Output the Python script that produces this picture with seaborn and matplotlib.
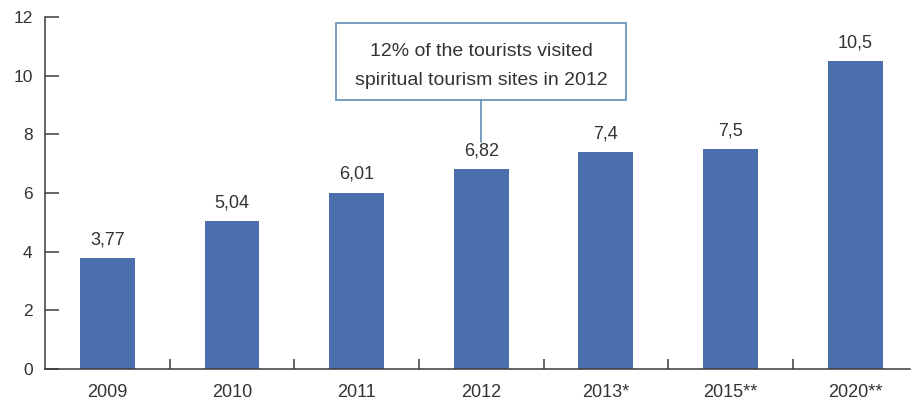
import matplotlib
matplotlib.use("Agg")
import matplotlib.pyplot as plt
from matplotlib.patches import Rectangle
import seaborn as sns
import pandas as pd

# Tourist numbers by year (millions); starred years are estimates/forecasts
years = ["2009", "2010", "2011", "2012", "2013*", "2015**", "2020**"]
tourists = [3.77, 5.04, 6.01, 6.82, 7.4, 7.5, 10.5]
value_labels = ["3,77", "5,04", "6,01", "6,82", "7,4", "7,5", "10,5"]
y_ticks = [0, 2, 4, 6, 8, 10, 12]
callout_text = "12% of the tourists visited\nspiritual tourism sites in 2012"
callout_year = "2012"

sns.set_theme(style="white")
plt.rcParams["font.family"] = ["Liberation Sans", "DejaVu Sans"]

BAR = "#4A6FAC"
TEXT = "#333333"
AXIS = "#3a3a3a"
BOX = "#5F8DB4"

df = pd.DataFrame({"year": years, "tourists": tourists})

fig = plt.figure(figsize=(9.13, 4.04), dpi=100)
ax = fig.add_axes([45 / 913, 35 / 404, 865 / 913, 352 / 404])

sns.barplot(data=df, x="year", y="tourists", color=BAR, saturation=1,
            width=0.44, ax=ax, edgecolor="none")

ax.set_xlim(-0.5, 6.44)
ax.set_ylim(0, 12)
ax.set_yticks(y_ticks)
ax.set_yticklabels([str(t) for t in y_ticks])
ax.set_xlabel("")
ax.set_ylabel("")

for s in ["top", "right"]:
    ax.spines[s].set_visible(False)
for s in ["left", "bottom"]:
    ax.spines[s].set_color(AXIS)
    ax.spines[s].set_linewidth(1.1)

ax.tick_params(axis="y", direction="in", length=10, width=1.1, color=AXIS,
               labelsize=12.5, labelcolor=TEXT, pad=9, left=True)
ax.tick_params(axis="x", which="major", length=0, labelsize=13,
               labelcolor=TEXT, pad=11)
ax.set_xticks([i + 0.5 for i in range(len(years) - 1)], minor=True)
ax.tick_params(axis="x", which="minor", direction="in", length=7,
               width=1.1, color=AXIS, bottom=True)

# Value labels above each bar
for i, (v, lab) in enumerate(zip(tourists, value_labels)):
    ax.annotate(lab, xy=(i, v), xytext=(0, 7), textcoords="offset points",
                ha="center", va="bottom", fontsize=13, color=TEXT)

# Callout box for 2012
cx = years.index(callout_year)
box_w, box_lo, box_hi = 2.33, 9.17, 11.8
ax.add_patch(Rectangle((cx - box_w / 2, box_lo), box_w, box_hi - box_lo,
                       facecolor="white", edgecolor=BOX, linewidth=1.2,
                       clip_on=False, zorder=3))
ax.text(cx, (box_lo + box_hi) / 2 - 0.15, callout_text, ha="center",
        va="center", fontsize=14, color=TEXT, linespacing=1.9, zorder=4)
ax.plot([cx, cx], [box_lo, tourists[cx] + 0.92], color=BOX, linewidth=1.2,
        zorder=3)

fig.savefig("out.png", dpi=100, facecolor="white")
